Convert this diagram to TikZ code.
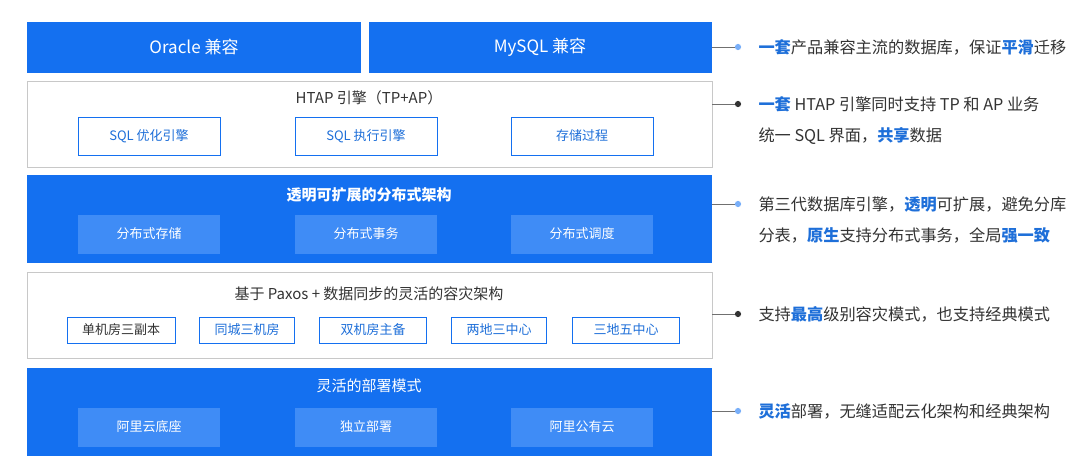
\documentclass[tikz,border=0pt]{standalone}
\usepackage{fontspec}
\setmainfont{Noto Sans CJK SC}
\definecolor{bl}{HTML}{1470F0}
\definecolor{lbl}{HTML}{3F8CF6}
\definecolor{tx}{HTML}{333333}
\definecolor{hl}{HTML}{1E6FD9}
\definecolor{gr}{HTML}{C8C8C8}
\newcommand{\hlt}[1]{\textcolor{hl}{\textbf{#1}}}
\begin{document}
\begin{tikzpicture}[x=1pt,y=-1pt,
  bluebar/.style={fill=bl,draw=none},
  whitebar/.style={fill=white,draw=gr,line width=0.8pt},
  wsub/.style={draw=bl,fill=white,line width=0.8pt,text=hl,font=\fontsize{13}{15}\selectfont},
  bsub/.style={fill=lbl,draw=none,text=white,font=\fontsize{13}{15}\selectfont},
  ttl/.style={font=\fontsize{15}{17}\selectfont},
  note/.style={anchor=west,text=tx,font=\fontsize{16.2}{18}\selectfont,align=left},
  lnk/.style={draw=tx!70,line width=0.7pt},
  dotb/.style={circle,fill=lbl!70,inner sep=2.2pt},
  dotg/.style={circle,fill=tx,inner sep=2.2pt}]
\useasboundingbox (0,0) rectangle (1080,469);
\fill[white] (0,0) rectangle (1080,469);
% row 1
\fill[bluebar] (27,22) rectangle (361,73);
\fill[bluebar] (369,22) rectangle (712,73);
\node[text=white,font=\fontsize{17}{19}\selectfont] (ora) at (194,47) {Oracle 兼容};
\node[text=white,font=\fontsize{17}{19}\selectfont] (mys) at (540,47) {MySQL 兼容};
% row 2
\draw[whitebar] (27,81) rectangle (712,167);
\node[ttl,text=tx] (htap) at (369,98) {HTAP 引擎（TP+AP）};
\node[wsub,minimum width=142pt,minimum height=38pt] (s1) at (149,136) {SQL 优化引擎};
\node[wsub,minimum width=142pt,minimum height=38pt] (s2) at (366,136) {SQL 执行引擎};
\node[wsub,minimum width=142pt,minimum height=38pt] (s3) at (582,136) {存储过程};
% row 3
\fill[bluebar] (27,175) rectangle (712,263);
\node[text=white,font=\fontsize{15}{17}\selectfont\bfseries] (dist) at (369,195) {透明可扩展的分布式架构};
\node[bsub,minimum width=142pt,minimum height=39pt] (d1) at (149,234) {分布式存储};
\node[bsub,minimum width=142pt,minimum height=39pt] (d2) at (366,234) {分布式事务};
\node[bsub,minimum width=142pt,minimum height=39pt] (d3) at (582,234) {分布式调度};
% row 4
\draw[whitebar] (27,272) rectangle (712,358);
\node[ttl,text=tx] (pax) at (369,294) {基于 Paxos + 数据同步的灵活的容灾架构};
\node[wsub,minimum width=108pt,minimum height=26pt,text=tx] (p1) at (121,330) {单机房三副本};
\node[wsub,minimum width=95pt,minimum height=26pt] (p2) at (247,330) {同城三机房};
\node[wsub,minimum width=107pt,minimum height=26pt] (p3) at (373,330) {双机房主备};
\node[wsub,minimum width=95pt,minimum height=26pt] (p4) at (499,330) {两地三中心};
\node[wsub,minimum width=107pt,minimum height=26pt] (p5) at (626,330) {三地五中心};
% row 5
\fill[bluebar] (27,368) rectangle (712,456);
\node[ttl,text=white] (dep) at (369,386) {灵活的部署模式};
\node[bsub,minimum width=142pt,minimum height=39pt] (e1) at (149,427) {阿里云底座};
\node[bsub,minimum width=142pt,minimum height=39pt] (e2) at (366,427) {独立部署};
\node[bsub,minimum width=142pt,minimum height=39pt] (e3) at (582,427) {阿里公有云};
% notes
\coordinate (a1) at (712,47); \node[dotb] (b1) at (738,47) {};
\coordinate (a2) at (712,104); \node[dotg] (b2) at (738,104) {};
\coordinate (a3) at (712,204); \node[dotb] (b3) at (738,204) {};
\coordinate (a4) at (712,314); \node[dotg] (b4) at (738,314) {};
\coordinate (a5) at (712,411); \node[dotb] (b5) at (738,411) {};
\foreach \i in {1,...,5}{\draw[lnk] (a\i) -- (b\i);}
\node[note] (n1) at (755,47) {\hlt{一套}产品兼容主流的数据库，保证\hlt{平滑}迁移};
\node[note] (n2) at (755,121) {\hlt{一套} HTAP 引擎同时支持 TP 和 AP 业务\\[13pt]统一 SQL 界面，\hlt{共享}数据};
\node[note] (n3) at (755,220) {第三代数据库引擎，\hlt{透明}可扩展，避免分库\\[13pt]分表，\hlt{原生}支持分布式事务，全局\hlt{强一致}};
\node[note] (n4) at (755,314) {支持\hlt{最高}级别容灾模式，也支持经典模式};
\node[note] (n5) at (755,411) {\hlt{灵活}部署，无缝适配云化架构和经典架构};
\end{tikzpicture}
\end{document}
